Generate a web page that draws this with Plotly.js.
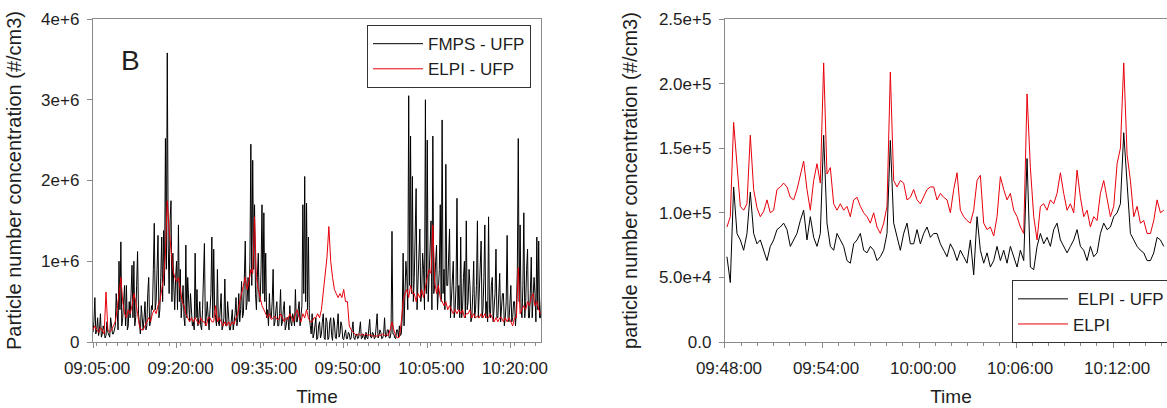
<!DOCTYPE html>
<html><head><meta charset="utf-8">
<script src="https://cdn.plot.ly/plotly-3.0.1.min.js"></script>
<style>html,body{margin:0;padding:0;overflow:hidden;background:#fff}#chart{width:1180px;height:408px}</style>
</head><body><div id="chart"></div>
<script>
// ---------- Panel B (left) ----------
// FMPS - UFP: 10 s samples from 09:05:00
const fmpsStart = '2000-01-01 09:05:00';
const fmpsStepMs = 10000;
const fmpsUfp = [
1.2e5,2.5e5,5.5e5,1e5,1.5e5,3e5, 0.8e5,1.5e5,3.5e5,0.6e5,1e5,2e5, 1.5e5,0.5e5,0.8e5,2.5e5,1.2e5,0.7e5,
0.6e5,3e5,2e5,1e5,1e5,1.5e5, 2e5,6e5,3e5,1.5e5,10e5,4e5, 12.4e5,2e5,3e5,5.5e5,7e5,2e5,
7e5,1.5e5,2e5,5e5,3e5,6e5, 9.5e5,3e5,10e5,2e5,3e5,7e5, 11.2e5,3.5e5,2e5,1e5,4.5e5,2e5,
1.5e5,3e5,5e5,1.5e5,2e5,6e5, 8e5,2e5,2.5e5,4.5e5,4e5,9e5, 14.7e5,4e5,5e5,9e5,13.2e5,3e5,
4e5,8e5,13e5,5e5,13.8e5,7e5, 25.2e5,9e5,35.8e5,12e5,6e5,15e5, 17.5e5,5e5,11e5,7e5,4e5,8e5,
10e5,4e5,14.5e5,5e5,9e5,3e5, 5e5,7e5,3e5,2e5,12e5,3e5, 8e5,4e5,2.5e5,6e5,4e5,2e5,
2.5e5,1.5e5,11e5,3e5,6.5e5,2e5, 3e5,5e5,2e5,1.5e5,4e5,7e5, 12.2e5,2e5,3e5,5e5,2.5e5,1.5e5,
4e5,6e5,13e5,3e5,11.5e5,4e5, 3e5,2e5,9e5,2.5e5,2e5,4e5, 6e5,1.5e5,2e5,3e5,7.8e5,2e5,
2e5,5e5,3.5e5,1.5e5,1.5e5,3e5, 4e5,1.5e5,2.5e5,3.5e5,5.5e5,2e5, 3e5,6e5,2.5e5,4e5,7.5e5,3e5,
3.5e5,9e5,12.5e5,4e5,5e5,8e5, 5e5,10e5,24.5e5,7e5,22.5e5,9e5, 17e5,6e5,4e5,8e5,11e5,5e5,
5e5,9e5,17e5,6e5,16e5,5e5, 11e5,3e5,4e5,2e5,6e5,3e5, 3e5,5e5,9e5,2e5,2.5e5,4e5,
5e5,2e5,2e5,3.5e5,6.5e5,2e5, 2.5e5,4e5,5e5,1.5e5,2e5,3e5, 3e5,1.5e5,4.5e5,2.5e5,2e5,3.5e5,
3e5,2e5,6.5e5,2.5e5,2.5e5,4e5, 5e5,2e5,3e5,4.5e5,17e5,6e5, 20.5e5,5e5,17.2e5,4e5,13e5,3e5,
2e5,1e5,3.5e5,0.5e5,1e5,2.5e5, 3e5,0.3e5,0.5e5,2e5,2.5e5,0.5e5, 1e5,2.5e5,3.5e5,0.5e5,0.3e5,3e5,
2.5e5,0.3e5,0.5e5,2.5e5,3e5,0.8e5, 0.2e5,3e5,2.5e5,0.5e5,0.4e5,2e5, 3.5e5,0.6e5,1e5,2.5e5,2e5,0.4e5,
0.3e5,1e5,1.5e5,0.4e5,0.4e5,1.2e5, 1e5,0.3e5,0.5e5,1.5e5,2.5e5,0.5e5, 0.3e5,0.8e5,1e5,0.4e5,0.5e5,1.5e5,
2.5e5,0.4e5,0.5e5,1e5,0.6e5,0.3e5, 1.2e5,0.5e5,0.4e5,1.5e5,2.8e5,0.6e5, 0.5e5,1.2e5,1e5,0.4e5,0.6e5,2e5,
3.5e5,0.5e5,0.8e5,1.5e5,1.2e5,0.4e5, 0.5e5,1e5,3e5,0.6e5,0.7e5,1.5e5, 1.5e5,0.5e5,0.5e5,1.2e5,13.7e5,1e5,
1e5,0.5e5,0.4e5,1.5e5,1.5e5,0.6e5, 2e5,0.8e5,1e5,3e5,11e5,2e5, 6e5,10e5,8e5,4e5,30.5e5,7e5,
25.5e5,6e5,20.5e5,5e5,8e5,12e5, 19e5,4e5,7e5,10e5,14e5,5e5, 6e5,11e5,9e5,4e5,30e5,6e5,
25e5,5e5,8e5,12e5,15e5,4e5, 25.5e5,6e5,7e5,10e5,12e5,4e5, 6e5,9e5,17e5,5e5,27.5e5,6e5,
9e5,4e5,22e5,7e5,7e5,11e5, 14e5,3e5,5e5,8e5,10e5,3e5, 4e5,7e5,17.8e5,4e5,7e5,3e5,
13e5,3e5,4e5,8e5,10e5,3e5, 15e5,4e5,5e5,9e5,7e5,2.5e5, 3e5,6e5,10e5,3e5,4e5,7e5,
15e5,3e5,6e5,9e5,12.5e5,3e5, 4e5,8e5,14.5e5,3e5,5e5,2.5e5, 15.5e5,4e5,3e5,7e5,8e5,2.5e5,
4e5,6e5,11.5e5,3e5,3e5,7e5, 8.5e5,2.5e5,4e5,6e5,6e5,2e5, 3e5,5e5,13.2e5,3e5,2.5e5,6e5,
7e5,2.5e5,3e5,5e5,5e5,2e5, 4e5,9e5,25.2e5,5e5,14.5e5,4e5, 3e5,7e5,16e5,3e5,5e5,9e5,
11.5e5,3e5,3e5,6e5,10.5e5,3e5, 5e5,8e5,6e5,2.5e5,13e5,4e5, 12.5e5,3e5,3e5,6e5,8e5,3e5
];
// ELPI - UFP: 20 s samples from 09:05:00
const elpiLeftStart = '2000-01-01 09:05:00';
const elpiLeftStepMs = 20000;
const elpiUfpLeft = [
1.5e5,2e5,1.5e5, 1.2e5,1.8e5,1.3e5, 1e5,6.2e5,1.5e5, 1.2e5,1.5e5,2e5,
2.5e5,4e5,6e5, 8e5,5e5,3.5e5, 3e5,4e5,3.5e5, 4.5e5,6e5,5e5, 3.5e5,2e5,1.5e5, 1.5e5,2e5,2.5e5,
3e5,2.5e5,3.5e5, 4e5,3.5e5,4.5e5, 5e5,6.5e5,8e5, 11e5,17.5e5,14e5, 11e5,9e5,8e5,
7.5e5,8e5,6.5e5, 5e5,4.5e5,3.5e5, 3e5,2.5e5,3e5, 2.5e5,3e5,2.5e5, 2.2e5,3e5,2.5e5,
2.5e5,2e5,3e5, 3e5,2.5e5,2.5e5, 4.5e5,2.5e5,3e5, 2.5e5,2e5,2.5e5, 2e5,2.5e5,2e5,
2.5e5,2.2e5,3e5, 3.5e5,5e5,6e5, 7e5,8e5,6.5e5, 7.5e5,9e5,8.5e5, 15.5e5,8e5,6.5e5,
5.5e5,4.5e5,4e5, 3.5e5,3e5,3.5e5, 2.8e5,3e5,3.2e5, 2.8e5,2.8e5,3.5e5, 3e5,2.5e5,3e5,
2.8e5,3.5e5,3e5, 2.5e5,3.5e5,4e5, 3e5,2.5e5,3.5e5, 3e5,4e5,3e5, 2.5e5,2.5e5,3e5,
3e5,3.5e5,3e5, 4e5,6e5,8e5, 10.5e5,14.3e5,10e5, 8e5,6.5e5,6e5, 5.5e5,6e5,5.5e5,
6.5e5,5e5,5e5, 2e5,1.5e5,1.2e5, 1e5,0.8e5,1e5, 0.8e5,1e5,0.8e5, 1e5,0.8e5,0.9e5,
0.8e5,0.7e5,0.8e5, 0.7e5,0.9e5,0.8e5, 1e5,0.8e5,0.9e5, 0.8e5,1.5e5,2.5e5, 1.5e5,0.8e5,0.5e5,
0.6e5,2.5e5,5e5, 6e5,6.5e5,5.5e5, 7e5,6e5,6e5, 5e5,6e5,5.5e5, 6.5e5,5.5e5,7e5,
8e5,9e5,8.5e5, 14.5e5,7.5e5,6e5, 7e5,5.5e5,5e5, 4.5e5,5e5,4e5, 4.5e5,4e5,3.5e5,
4e5,3.5e5,4e5, 3.5e5,4e5,3e5, 3.5e5,3.5e5,4e5, 3e5,3.5e5,3e5, 3.2e5,3e5,3.5e5,
3e5,3.5e5,3e5, 3e5,3.5e5,3e5, 2.5e5,3e5,2.5e5, 3e5,3e5,2.5e5, 3e5,2.5e5,3e5,
2.5e5,2e5,3e5, 3e5,9.2e5,3.5e5, 4e5,4.5e5,4e5, 5e5,4.5e5,5.5e5, 6e5,4.5e5,5e5,
4e5,3.5e5,3.5e5
];
const leftYTickVals = [0, 1e6, 2e6, 3e6, 4e6];
const leftYTickText = ['0', '1e+6', '2e+6', '3e+6', '4e+6'];

// ---------- Right panel: samples every 12.37 s from 09:48:07 ----------
const rightStart = '2000-01-01 09:48:07.4';
const rightStepMs = 12370;
const elpiRight = [
89e3,97e3,170e3,140e3,105e3,102e3,107e3,160e3,118e3,104e3,
97e3,101e3,110e3,100e3,102e3,118e3,120e3,123e3,120e3,112e3,
110e3,118e3,128e3,140e3,118e3,102e3,125e3,138e3,123e3,216e3,
130e3,135e3,107e3,102e3,107e3,102e3,105e3,97e3,110e3,112e3,
105e3,100e3,97e3,92e3,100e3,89e3,84e3,92e3,105e3,209e3,
125e3,120e3,125e3,123e3,110e3,112e3,118e3,110e3,107e3,112e3,
118e3,120e3,120e3,110e3,115e3,112e3,110e3,
100e3,118e3,131e3,102e3,97e3,94e3,92e3,102e3,125e3,129e3,
92e3,87e3,89e3,82e3,97e3,128e3,118e3,110e3,115e3,102e3,
97e3,89e3,84e3,192e3,135e3,97e3,79e3,105e3,107e3,102e3,
110e3,107e3,115e3,131e3,115e3,102e3,107e3,100e3,133e3,112e3,
97e3,102e3,89e3,97e3,94e3,115e3,125e3,110e3,97e3,105e3,
138e3,150e3,216e3,145e3,125e3,97e3,105e3,92e3,94e3,84e3,
84e3,94e3,110e3,100e3,102e3
];
const elpiUfpRight = [
66e3,46e3,120e3,84e3,79e3,71e3,84e3,116e3,84e3,76e3,
79e3,71e3,63e3,74e3,79e3,87e3,89e3,92e3,87e3,74e3,
79e3,84e3,94e3,102e3,79e3,97e3,81e3,74e3,84e3,160e3,
92e3,74e3,71e3,84e3,79e3,74e3,63e3,61e3,76e3,79e3,
84e3,71e3,69e3,74e3,71e3,63e3,66e3,71e3,84e3,156e3,
92e3,81e3,71e3,84e3,92e3,76e3,76e3,87e3,76e3,84e3,
89e3,81e3,84e3,84e3,76e3,71e3,66e3,
76e3,71e3,63e3,71e3,66e3,61e3,79e3,52e3,97e3,71e3,
61e3,69e3,58e3,63e3,74e3,63e3,71e3,61e3,74e3,66e3,
58e3,71e3,63e3,142e3,58e3,56e3,74e3,84e3,76e3,81e3,
74e3,87e3,92e3,79e3,74e3,69e3,74e3,79e3,87e3,74e3,
71e3,63e3,74e3,66e3,69e3,84e3,92e3,87e3,89e3,97e3,
100e3,107e3,162e3,118e3,84e3,79e3,74e3,71e3,69e3,63e3,
63e3,69e3,81e3,79e3,74e3
];
const rightYTickVals = [0, 5e4, 1e5, 1.5e5, 2e5, 2.5e5];
const rightYTickText = ['0.0', '5.0e+4', '1.0e+5', '1.5e+5', '2.0e+5', '2.5e+5'];

const panelLabel = 'B';
const xTitle = 'Time';
const leftYTitle = 'Particle number concentration (#/cm3)';
const rightYTitle = 'particle number concentration (#/cm3)';

// ---------- styling ----------
const FONT = 'Liberation Sans, Arial, Helvetica, sans-serif';
const TXT = '#1e1e1e';
const AX = '#8a8a8a';
const BLACK = '#000000';
const RED = '#e8000b';

const traces = [
  {x0: fmpsStart, dx: fmpsStepMs, y: fmpsUfp, name: 'FMPS - UFP', type: 'scatter', mode: 'lines',
   line: {color: BLACK, width: 1}, xaxis: 'x', yaxis: 'y', legend: 'legend'},
  {x0: elpiLeftStart, dx: elpiLeftStepMs, y: elpiUfpLeft, name: 'ELPI - UFP', type: 'scatter', mode: 'lines',
   line: {color: RED, width: 1}, xaxis: 'x', yaxis: 'y', legend: 'legend'},
  {x0: rightStart, dx: rightStepMs, y: elpiRight, name: 'ELPI', type: 'scatter', mode: 'lines',
   line: {color: RED, width: 1}, xaxis: 'x2', yaxis: 'y2', legend: 'legend2', legendrank: 2},
  {x0: rightStart, dx: rightStepMs, y: elpiUfpRight, name: ' ELPI - UFP', type: 'scatter', mode: 'lines',
   line: {color: BLACK, width: 1}, xaxis: 'x2', yaxis: 'y2', legend: 'legend2', legendrank: 1}
];

const axBase = {
  showline: true, linecolor: AX, linewidth: 1.2, mirror: true, showgrid: false, zeroline: false,
  ticks: 'outside', ticklen: 5, tickcolor: AX, tickwidth: 1,
  tickfont: {family: FONT, size: 17, color: TXT}
};

const layout = {
  width: 1180, height: 408,
  margin: {l: 93, r: 3, t: 19, b: 66, autoexpand: false},
  paper_bgcolor: '#fff', plot_bgcolor: '#fff',
  font: {family: FONT, color: TXT},
  showlegend: true,
  xaxis: Object.assign({}, axBase, {
    domain: [0, 0.4133], type: 'date',
    range: ['2000-01-01 09:05:00', '2000-01-01 10:25:25'],
    tick0: '2000-01-01 09:05:00', dtick: 900000, tickformat: '%H:%M:%S',
    ticklabelstandoff: 5, ticklabelshift: 4,
    minor: {dtick: 112500, ticks: 'outside', ticklen: 3, tickcolor: AX, showgrid: false},
    title: {text: xTitle, font: {family: FONT, size: 19, color: TXT}, standoff: 13}
  }),
  yaxis: Object.assign({}, axBase, {
    domain: [0, 1], anchor: 'x', range: [0, 4e6],
    tickmode: 'array', tickvals: leftYTickVals, ticktext: leftYTickText,
    ticklabelstandoff: 4,
    title: {text: leftYTitle, font: {family: FONT, size: 20, color: TXT}, standoff: 14}
  }),
  xaxis2: Object.assign({}, axBase, {
    domain: [0.583, 1], type: 'date', anchor: 'y2',
    range: ['2000-01-01 09:48:00', '2000-01-01 10:15:57'],
    tick0: '2000-01-01 09:48:00', dtick: 360000, tickformat: '%H:%M:%S',
    ticklabelstandoff: 5, ticklabelshift: 4,
    minor: {dtick: 60000, ticks: 'outside', ticklen: 3, tickcolor: AX, showgrid: false},
    title: {text: xTitle, font: {family: FONT, size: 19, color: TXT}, standoff: 13}
  }),
  yaxis2: Object.assign({}, axBase, {
    domain: [0, 1], anchor: 'x2', range: [0, 2.5e5],
    tickmode: 'array', tickvals: rightYTickVals, ticktext: rightYTickText,
    ticklabelstandoff: 4,
    title: {text: rightYTitle, font: {family: FONT, size: 20, color: TXT}, standoff: 15}
  }),
  legend: {
    x: 0.2528, y: 0.981, xanchor: 'left', yanchor: 'top',
    bgcolor: '#fff', bordercolor: '#333', borderwidth: 1,
    font: {family: FONT, size: 17, color: TXT}, itemwidth: 50, tracegroupgap: 0
  },
  legend2: {
    x: 0.8478, y: 0.191, xanchor: 'left', yanchor: 'top',
    bgcolor: '#fff', bordercolor: '#333', borderwidth: 1,
    font: {family: FONT, size: 17, color: TXT}, itemwidth: 50, tracegroupgap: 0,
    traceorder: 'normal'
  },
  annotations: [
    {text: panelLabel, xref: 'paper', yref: 'paper', x: 0.035, y: 0.873,
     xanchor: 'center', yanchor: 'middle', showarrow: false,
     font: {family: FONT, size: 28, color: TXT}}
  ]
};

Plotly.newPlot('chart', traces, layout, {staticPlot: true, displayModeBar: false});
</script>
</body></html>
